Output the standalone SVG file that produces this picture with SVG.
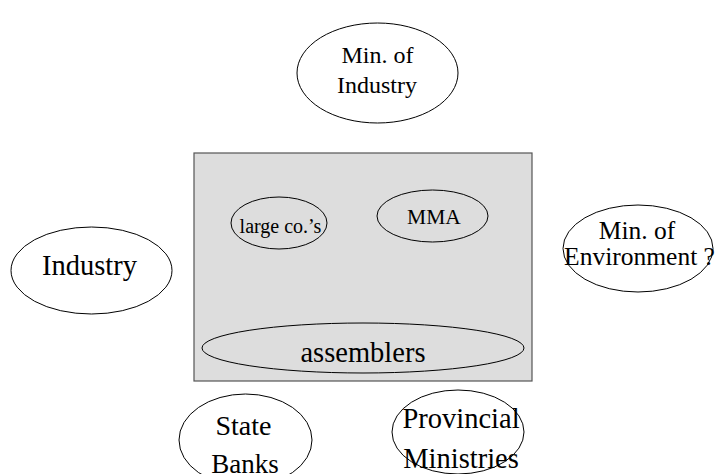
<svg xmlns="http://www.w3.org/2000/svg" width="717" height="474" viewBox="0 0 717 474">
  <style>
    .node { fill: #ffffff; stroke: #000000; stroke-width: 1; }
    .inner { fill: none; stroke: #000000; stroke-width: 1; }
    .box { fill: #dddddd; stroke: #555555; stroke-width: 1.2; }
    text { font-family: "Liberation Serif", "Times New Roman", serif; fill: #000000; text-anchor: middle; }
  </style>
  <rect width="717" height="474" fill="#ffffff"/>

  <g id="min-industry">
    <ellipse class="node" cx="377.5" cy="73" rx="80.5" ry="50"/>
    <text x="377.5" y="63" font-size="24">Min. of</text>
    <text x="377" y="93" font-size="24">Industry</text>
  </g>

  <g id="sector">
    <rect class="box" x="194" y="153" width="338" height="228"/>
  </g>

  <g id="large-cos">
    <ellipse class="inner" cx="279" cy="223" rx="48" ry="26"/>
    <text x="280.5" y="233" font-size="20">large co.’s</text>
  </g>

  <g id="mma">
    <ellipse class="inner" cx="432.5" cy="216" rx="55.5" ry="26"/>
    <text x="434" y="224" font-size="21.5">MMA</text>
  </g>

  <g id="assemblers">
    <ellipse class="inner" cx="363" cy="348" rx="161" ry="25"/>
    <text x="363" y="362" font-size="28.5">assemblers</text>
  </g>

  <g id="min-environment">
    <ellipse class="node" cx="638" cy="248.5" rx="75" ry="43.5"/>
    <text x="637" y="239" font-size="25.5">Min. of</text>
    <text x="639.5" y="265" font-size="25.5">Environment ?</text>
  </g>

  <g id="industry">
    <ellipse class="node" cx="91.5" cy="270.5" rx="80.5" ry="43.5"/>
    <text x="89.5" y="275" font-size="28.5">Industry</text>
  </g>

  <g id="state-banks">
    <ellipse class="node" cx="245.5" cy="440" rx="66.5" ry="46"/>
    <text x="243.5" y="435" font-size="28">State</text>
    <text x="245" y="473" font-size="27">Banks</text>
  </g>

  <g id="provincial-ministries">
    <ellipse class="node" cx="458" cy="432" rx="66" ry="42"/>
    <text x="461" y="428" font-size="28.5">Provincial</text>
    <text x="461" y="468" font-size="28.5">Ministries</text>
  </g>
</svg>
